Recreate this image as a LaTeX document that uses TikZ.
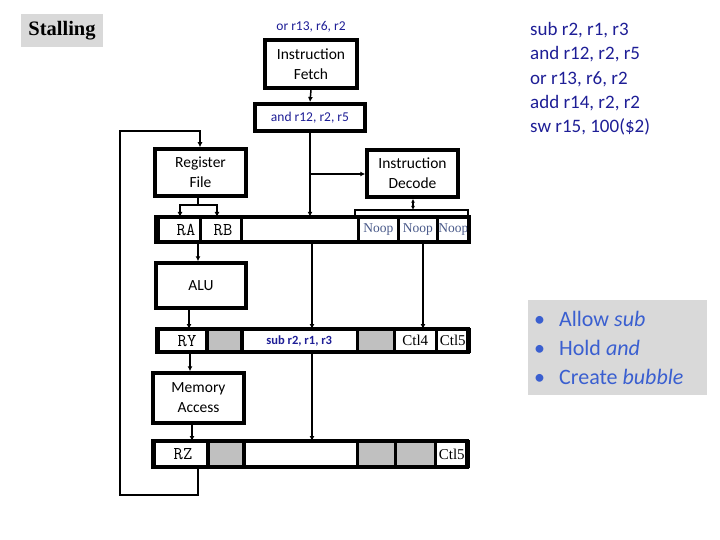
\documentclass[tikz,border=0pt]{standalone}
\usepackage{fontspec}
\setmainfont{Liberation Serif}
\newfontfamily\calf{Carlito}
\usetikzlibrary{arrows.meta}
\definecolor{navy}{HTML}{1E1E96}
\definecolor{bblue}{HTML}{3A5FD0}
\definecolor{noopc}{HTML}{4A5A8A}
\definecolor{cellgray}{HTML}{C0C0C0}
\definecolor{boxgray}{HTML}{D9D9D9}
\tikzset{
  stage/.style={draw, line width=3.5, fill=white, inner sep=0, align=center, font=\calf\fontsize{15.5}{20}\selectfont},
  cellbox/.style={draw, line width=2.5, inner sep=0, minimum height=#1},
  monotxt/.style={inner sep=0, font=\ttfamily\fontsize{18}{20}\selectfont},
  conn/.style={line width=1.5, -{Latex[length=5pt,width=5pt]}},
  plain/.style={line width=1.5},
}
\begin{document}
\begin{tikzpicture}[x=1pt,y=-1pt]
\useasboundingbox (0,0) rectangle (720,540);
% title
\node[fill=boxgray, minimum width=82, minimum height=33, inner sep=0, font=\bfseries\fontsize{20.5}{23}\selectfont] (stall) at (62,31) {Stalling};
% instruction list
\node[anchor=north west, align=left, text=navy, inner sep=0, font=\calf\fontsize{19}{24.4}\selectfont] (prog) at (530,22) {sub r2, r1, r3\\and r12, r2, r5\\or r13, r6, r2\\add r14, r2, r2\\sw r15, 100(\$2)};
% bullets
\node[fill=boxgray, minimum width=179, minimum height=95, inner sep=0] (bbox) at (617.5,347.5) {};
\node[anchor=west, align=left, text=bblue, inner sep=0, font=\calf\fontsize{22}{29}\selectfont] (bul) at (534,347.5) {\textbullet\hspace{14pt}Allow \textit{sub}\\\textbullet\hspace{14pt}Hold \textit{and}\\\textbullet\hspace{14pt}Create \textit{bubble}};
% IF
\node[text=navy, inner sep=0, font=\calf\fontsize{13.5}{15}\selectfont] (orlbl) at (311,27) {or r13, r6, r2};
\node[stage, minimum width=92, minimum height=48] (IF) at (311,64) {Instruction\\Fetch};
\node[draw, line width=4, fill=white, minimum width=110, minimum height=27, inner sep=0, text=navy, font=\calf\fontsize{13.5}{15}\selectfont] (andreg) at (310,117.5) {and r12, r2, r5};
% RF, ID
\node[stage, minimum width=91, minimum height=47] (RF) at (200.5,172.5) {Register\\File};
\node[stage, minimum width=91, minimum height=47] (ID) at (412.5,173.5) {Instruction\\Decode};
% ID/EX register
\node[fill=white, minimum width=313, minimum height=25, inner sep=0] (idex) at (312.5,229.5) {};
\node[cellbox=25, minimum width=42, anchor=west] (RA) at (157,229.5) {};
\node[monotxt] (RAt) at (186,230) {RA};
\node[cellbox=25, minimum width=41, anchor=west] (RB) at (199,229.5) {};
\node[monotxt] (RBt) at (223,230) {RB};
\node[cellbox=25, minimum width=117, anchor=west] (c3) at (240,229.5) {};
\node[cellbox=25, minimum width=40, anchor=west, text=noopc, font=\fontsize{13.5}{15}\selectfont] (n1) at (357,229.5) {Noop};
\node[cellbox=25, minimum width=39, anchor=west, text=noopc, font=\fontsize{13.5}{15}\selectfont] (n2) at (397,229.5) {Noop};
\node[cellbox=25, minimum width=32, anchor=west, text=noopc, font=\fontsize{13.5}{15}\selectfont] (n3) at (436,229.5) {Noop};
\draw[line width=4] (idex.north west) rectangle (idex.south east);
% ALU
\node[stage, minimum width=90, minimum height=45] (ALU) at (201,285.5) {ALU};
% EX/MEM register
\node[fill=white, minimum width=311, minimum height=23, inner sep=0] (exmem) at (312.5,340.5) {};
\node[cellbox=23, minimum width=48, anchor=west] (RY) at (157,340.5) {};
\node[monotxt] (RYt) at (187,341) {RY};
\node[cellbox=23, minimum width=35, anchor=west, fill=cellgray, line width=4] (g1) at (205,340.5) {};
\node[cellbox=23, minimum width=116, anchor=west, text=navy, font=\calf\bfseries\fontsize{12.5}{14}\selectfont] (sub) at (240,340.5) {sub r2, r1, r3};
\node[cellbox=23, minimum width=37, anchor=west, fill=cellgray] (g2) at (356,340.5) {};
\node[cellbox=23, minimum width=42, anchor=west, font=\fontsize{15}{17}\selectfont] (ct4) at (393,340.5) {Ctl4};
\node[cellbox=23, minimum width=33, anchor=west, font=\fontsize{15}{17}\selectfont] (ct5) at (435,340.5) {Ctl5};
\draw[line width=4] (exmem.north west) rectangle (exmem.south east);
% MA
\node[stage, minimum width=91, minimum height=50] (MA) at (198.5,398) {Memory\\Access};
% MEM/WB register
\node[fill=white, minimum width=314, minimum height=26, inner sep=0] (memwb) at (310,454) {};
\node[cellbox=26, minimum width=53, anchor=west] (RZ) at (153,454) {};
\node[monotxt] (RZt) at (183,454) {RZ};
\node[cellbox=26, minimum width=36, anchor=west, fill=cellgray, line width=4] (h1) at (206,454) {};
\node[cellbox=26, minimum width=114, anchor=west] (h2) at (242,454) {};
\node[cellbox=26, minimum width=38, anchor=west, fill=cellgray] (h3) at (356,454) {};
\node[cellbox=26, minimum width=40, anchor=west, fill=cellgray] (h4) at (394,454) {};
\node[cellbox=26, minimum width=33, anchor=west, font=\fontsize{15}{17}\selectfont] (h5) at (434,454) {Ctl5};
\draw[line width=4] (memwb.north west) rectangle (memwb.south east);
% connectors
\coordinate (br1) at (311,174);
\draw[conn] (IF.south) -- (andreg.north);
\draw[conn] (andreg.south) -- (andreg.south |- idex.north);
\draw[conn] (br1) -- (ID.west |- br1);
% writeback loop
\coordinate (lp1) at (198,495);
\coordinate (lp2) at (120,495);
\coordinate (lp3) at (120,131);
\coordinate (lp4) at (200,131);
\draw[conn] (RZ.south -| lp1) -- (lp1) -- (lp2) -- (lp3) -- (lp4) -- (RF.north -| lp4);
% RF to RA/RB
\coordinate (rfb) at (198,205);
\draw[plain] (RF.south -| rfb) -- (rfb);
\draw[conn] (rfb) -- (180,205) -- (180,217);
\draw[conn] (rfb) -- (217,205) -- (217,217);
% ID bracket
\coordinate (idb) at (413,210);
\draw[line width=1.5, {Latex[length=4pt,width=4pt]}-{Latex[length=4pt,width=4pt]}] (ID.south -| idb) -- (idb);
\draw[line width=1.5] (355,217) -- (355,210) -- (468,210) -- (468,217);
% ID/EX to ALU & EX/MEM
\draw[conn] (198,242) -- (ALU.north -| 198,0);
\draw[conn] (312,242) -- (312,329);
\draw[conn] (423,242) -- (423,329);
\draw[conn] (189,308) -- (189,329);
% EX/MEM to MA & MEM/WB
\draw[conn] (190,352) -- (MA.north -| 190,0);
\draw[conn] (312,352) -- (312,441);
\draw[conn] (192,423) -- (192,441);
\end{tikzpicture}
\end{document}
